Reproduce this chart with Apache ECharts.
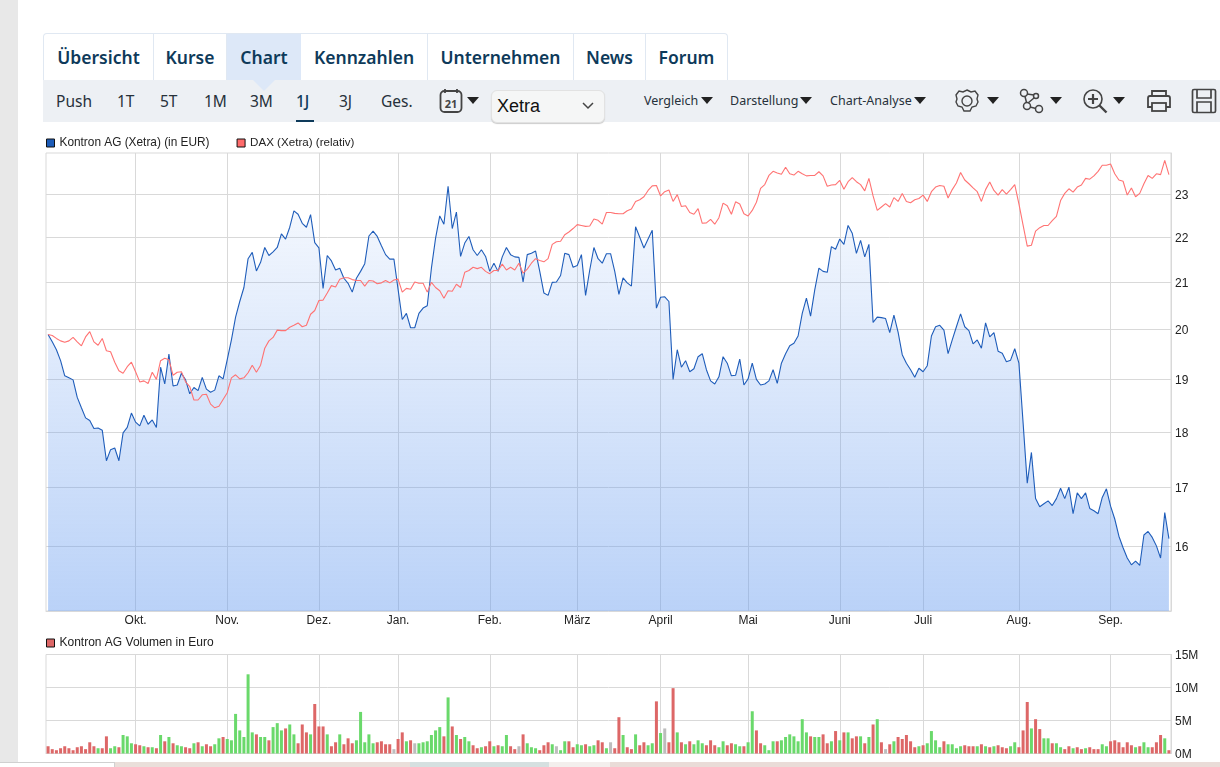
<!DOCTYPE html>
<html>
<head>
<meta charset="utf-8">
<title>Kontron AG Chart</title>
<script src="https://cdn.jsdelivr.net/npm/echarts@6/dist/echarts.min.js"></script>
<style>
html, body { margin: 0; padding: 0; background: #fff; width: 1220px; height: 767px; overflow: hidden; }
body { position: relative; font-family: "Noto Sans", sans-serif; }
#side { position: absolute; left: 0; top: 0; width: 18px; height: 762px; background: #e8e8e8; }
#tabs { position: absolute; left: 43px; top: 33px; width: 683px; height: 46px; border: 1px solid #e0e8f2; border-bottom: 0; border-radius: 4px 4px 0 0; }
.tab { position: absolute; top: 34px; height: 46px; line-height: 47px; text-align: center; font-size: 17.5px; font-weight: 600; color: #0e3a5a; border-right: 1px solid #e0e8f2; box-sizing: border-box; }
#bar { position: absolute; left: 43px; top: 80px; width: 1177px; height: 42px; background: #edf0f4; }
#tip { position: absolute; left: 253px; top: 80px; width: 0; height: 0; border-left: 11px solid transparent; border-right: 11px solid transparent; border-top: 11px solid #dde8f8; }
.rng { position: absolute; top: 90px; line-height: 22px; font-size: 15.5px; color: #27313a; }
.menu { position: absolute; top: 91px; line-height: 20px; font-size: 12.5px; color: #27313a; }
.tri { position: absolute; width: 0; height: 0; border-left: 6px solid transparent; border-right: 6px solid transparent; border-top: 7px solid #222; }
#sel { position: absolute; left: 491px; top: 90px; width: 112px; height: 31px; background: #f5f6f6; border: 1px solid #e2e2e2; border-radius: 6px; box-shadow: 0 1px 1px #ccc; font: 18px "Liberation Sans", Arial, sans-serif; line-height: 31px; color: #111; text-indent: 5px; }
svg.ico { position: absolute; fill: none; stroke: #444; }
.strip { position: absolute; top: 762px; height: 5px; }
#chart { position: absolute; left: 0; top: 0; width: 1220px; height: 767px; }
</style>
</head>
<body>
<div id="side"></div>
<div id="tabs"></div>
<div class="tab" style="left:44px;width:110px">Übersicht</div>
<div class="tab" style="left:154px;width:73px">Kurse</div>
<div class="tab" style="left:227px;width:74px;background:#dde8f8;border-right:0">Chart</div>
<div class="tab" style="left:301px;width:127px">Kennzahlen</div>
<div class="tab" style="left:428px;width:146px">Unternehmen</div>
<div class="tab" style="left:574px;width:72px">News</div>
<div class="tab" style="left:646px;width:81px;border-right:0">Forum</div>
<div id="bar"></div>
<div id="tip"></div>
<div class="rng" style="left:56px">Push</div>
<div class="rng" style="left:117px">1T</div>
<div class="rng" style="left:160px">5T</div>
<div class="rng" style="left:204px">1M</div>
<div class="rng" style="left:250px">3M</div>
<div class="rng" style="left:296px;font-weight:500;color:#0e3a5a">1J</div>
<div style="position:absolute;left:296px;top:120px;width:18px;height:2px;background:#0e3a5a"></div>
<div class="rng" style="left:339px">3J</div>
<div class="rng" style="left:381px">Ges.</div>
<svg class="ico" style="left:439px;top:88px" width="24" height="26" stroke-width="1.8">
  <rect x="1.5" y="3" width="21" height="21" rx="4"/><path d="M6 1v4M18 1v4"/>
  <text x="12" y="20" font-family="Noto Sans" font-size="11" font-weight="700" fill="#444" stroke="none" text-anchor="middle">21</text>
</svg>
<div class="tri" style="left:467px;top:97px"></div>
<div id="sel">Xetra</div>
<svg class="ico" style="left:582px;top:102px" width="12" height="8" stroke-width="1.5"><path d="M1 1l5 5 5-5"/></svg>
<div class="menu" style="left:644px">Vergleich</div><div class="tri" style="left:701px;top:97px"></div>
<div class="menu" style="left:730px">Darstellung</div><div class="tri" style="left:800px;top:97px"></div>
<div class="menu" style="left:830px">Chart-Analyse</div><div class="tri" style="left:914px;top:97px"></div>
<svg class="ico" style="left:954px;top:88px" width="26" height="26" stroke-width="1.4">
  <path d="M13 2l4 2 4-1 3 4-1 4 1 3-2 4-4 1-2 4h-6l-2-4-4-1-2-4 1-3-1-4 3-4 4 1z"/><circle cx="13" cy="13" r="5"/>
</svg>
<div class="tri" style="left:987px;top:97px"></div>
<svg class="ico" style="left:1019px;top:88px" width="26" height="26" stroke-width="1.5">
  <circle cx="5" cy="5" r="3.5"/><circle cx="8" cy="18" r="3.5"/><circle cx="20" cy="21" r="3.5"/><circle cx="17" cy="8" r="2.5"/>
  <path d="M6 8.5l1.5 6M11 19l6 1.5M8 6l7 1M9 15l6-5"/>
</svg>
<div class="tri" style="left:1050px;top:97px"></div>
<svg class="ico" style="left:1082px;top:88px" width="26" height="26" stroke-width="1.6">
  <circle cx="11" cy="11" r="9"/><path d="M17.5 17.5l7 7" stroke-width="2.4"/><path d="M11 6v10M6 11h10" stroke-width="2.2"/>
</svg>
<div class="tri" style="left:1113px;top:97px"></div>
<svg class="ico" style="left:1146px;top:89px" width="26" height="24" stroke-width="1.8">
  <path d="M6 8V2h14v6M6 18H2V9q0-2 2-2h18q2 0 2 2v9h-4"/><rect x="6" y="14" width="14" height="8"/>
</svg>
<svg class="ico" style="left:1191px;top:88px" width="26" height="26" stroke-width="1.7">
  <rect x="1.5" y="1.5" width="23" height="23" rx="1.5"/><path d="M6 2v8h14V2M6 24V14h14v10"/>
</svg>
<div class="strip" style="left:0;width:114px;height:1px;background:#d0d0d0"></div>
<div class="strip" style="left:114px;width:1px;background:#d0d0d0"></div>
<div class="strip" style="left:115px;width:295px;background:#eadfda"></div>
<div class="strip" style="left:410px;width:139px;background:#d5e0e0"></div>
<div class="strip" style="left:549px;width:61px;background:#f3efed"></div>
<div class="strip" style="left:610px;width:610px;background:#eadcd8"></div>
<div id="chart"></div>

<script>
// Kursdaten
var kontronValues = [
    19.9, 19.75, 19.59, 19.37, 19.07, 19.03, 18.99, 18.65, 18.45, 18.26,
    18.21, 18.06, 18.07, 18.03, 17.47, 17.67, 17.7, 17.47, 17.98, 18.08,
    18.35, 18.18, 18.11, 18.31, 18.14, 18.22, 18.08, 19.24, 18.91, 19.5,
    18.87, 18.89, 19.12, 18.99, 18.72, 18.84, 18.78, 19.04, 18.81, 18.75,
    18.79, 19.07, 19.01, 19.39, 19.79, 20.26, 20.59, 20.89, 21.52, 21.66,
    21.25, 21.44, 21.77, 21.59, 21.67, 21.77, 22.08, 21.96, 22.23, 22.61,
    22.53, 22.32, 22.23, 22.52, 21.88, 21.76, 20.87, 21.59, 21.47, 21.27,
    21.31, 21.09, 20.98, 20.79, 21.09, 21.24, 21.41, 22.03, 22.14, 22.02,
    21.81, 21.61, 21.51, 21.51, 20.85, 20.21, 20.34, 20.04, 20.04, 20.34,
    20.45, 20.5, 21.31, 21.98, 22.49, 22.3, 23.19, 22.2, 22.58, 21.57,
    21.87, 22.02, 21.72, 21.59, 21.72, 21.57, 21.24, 21.42, 21.24, 21.56,
    21.77, 21.61, 21.56, 21.55, 21.01, 21.61, 21.64, 21.69, 21.24, 20.77,
    20.72, 21.0, 21.01, 21.15, 21.64, 21.61, 21.33, 21.37, 21.61, 20.72,
    21.27, 21.77, 21.52, 21.42, 21.63, 21.63, 21.24, 20.74, 21.1, 20.99,
    20.92, 22.24, 22.0, 21.76, 21.96, 22.16, 20.45, 20.68, 20.69, 20.59,
    19.0, 19.59, 19.24, 19.37, 19.15, 19.21, 19.45, 19.51, 19.19, 18.97,
    18.91, 19.05, 19.45, 19.32, 19.07, 19.08, 19.4, 18.89, 19.01, 19.32,
    19.0, 18.89, 18.91, 18.97, 19.19, 18.92, 19.32, 19.51, 19.67, 19.72,
    19.87, 20.34, 20.66, 20.28, 20.84, 21.31, 21.24, 21.22, 21.79, 21.73,
    21.96, 21.84, 22.27, 22.09, 21.64, 21.93, 21.56, 21.84, 20.15, 20.26,
    20.25, 20.23, 19.94, 20.3, 19.95, 19.49, 19.32, 19.19, 19.04, 19.22,
    19.15, 19.27, 19.87, 20.06, 20.09, 19.99, 19.51, 19.79, 20.06, 20.33,
    20.06, 19.98, 19.71, 19.79, 19.62, 20.14, 19.85, 19.94, 19.56, 19.52,
    19.35, 19.38, 19.61, 19.32, 18.17, 17.07, 17.62, 16.8, 16.66, 16.71,
    16.76, 16.68, 16.8, 16.98, 16.8, 17.0, 16.54, 16.9, 16.8, 16.9,
    16.63, 16.59, 16.54, 16.82, 16.97, 16.67, 16.45, 16.16, 15.97, 15.8,
    15.69, 15.75, 15.68, 16.18, 16.24, 16.14, 16.0, 15.8, 16.56, 16.12
];
var daxValues = [
    19.9, 19.88, 19.82, 19.77, 19.74, 19.77, 19.84, 19.75, 19.67, 19.85,
    19.96, 19.75, 19.68, 19.82, 19.57, 19.55, 19.34, 19.17, 19.12, 19.25,
    19.34, 19.15, 18.95, 18.97, 18.92, 19.14, 19.0, 19.37, 19.42, 19.39,
    19.08, 19.14, 19.15, 18.95, 18.86, 18.6, 18.6, 18.7, 18.71, 18.52,
    18.45, 18.48, 18.61, 18.74, 19.03, 19.09, 19.01, 19.03, 19.13, 19.28,
    19.14, 19.28, 19.62, 19.77, 19.84, 19.99, 19.98, 19.98, 20.05, 20.09,
    20.14, 20.06, 20.09, 20.32, 20.4, 20.61, 20.62, 20.77, 20.93, 20.9,
    21.07, 21.1, 21.1, 21.06, 21.04, 21.04, 20.92, 21.04, 21.03, 20.97,
    20.99, 21.04, 20.99, 21.05, 21.07, 20.79, 20.87, 20.85, 21.01, 20.98,
    20.98, 20.79, 21.0, 20.89, 20.82, 20.66, 20.82, 20.81, 20.96, 20.89,
    21.22, 21.26, 21.33, 21.3, 21.33, 21.24, 21.19, 21.26, 21.26, 21.4,
    21.27, 21.33, 21.27, 21.42, 21.2, 21.29, 21.42, 21.52, 21.48, 21.45,
    21.52, 21.84, 21.9, 21.91, 22.06, 22.12, 22.2, 22.29, 22.27, 22.25,
    22.26, 22.42, 22.39, 22.3, 22.57, 22.57, 22.55, 22.54, 22.54, 22.61,
    22.65, 22.83, 22.87, 22.94, 23.09, 23.2, 23.21, 22.96, 23.06, 23.1,
    22.83, 22.99, 22.71, 22.73, 22.57, 22.53, 22.66, 22.32, 22.33, 22.41,
    22.3, 22.45, 22.79, 22.73, 22.53, 22.82, 22.77, 22.54, 22.49, 22.62,
    22.81, 23.14, 23.23, 23.45, 23.55, 23.51, 23.48, 23.65, 23.49, 23.46,
    23.55, 23.49, 23.44, 23.45, 23.45, 23.54, 23.44, 23.19, 23.22, 23.23,
    23.33, 23.12, 23.3, 23.4, 23.3, 23.23, 23.08, 23.38, 22.96, 22.62,
    22.7, 22.78, 22.7, 22.92, 22.83, 23.02, 22.83, 22.8, 22.87, 22.9,
    22.98, 22.83, 23.06, 23.17, 23.21, 23.19, 22.91, 23.11, 23.27, 23.52,
    23.34, 23.25, 23.15, 23.06, 22.83, 23.11, 23.29, 23.09, 22.98, 23.11,
    23.0, 23.11, 23.23, 22.77, 22.28, 21.8, 21.82, 22.14, 22.22, 22.27,
    22.27, 22.38, 22.48, 22.85, 23.02, 23.13, 23.05, 23.17, 23.22, 23.38,
    23.36, 23.44, 23.55, 23.7, 23.7, 23.73, 23.49, 23.34, 23.31, 22.98,
    23.15, 22.94, 23.02, 23.25, 23.45, 23.38, 23.49, 23.47, 23.82, 23.47
];
// Volumen in Mio. Euro
var volumeValues = [
    1.1, 0.66, 0.5, 0.8, 1.1, 0.8, 0.5, 0.95, 1.1, 0.66,
    1.7, 1.1, 0.8, 0.8, 2.6, 0.8, 1.1, 0.95, 2.8, 2.6,
    1.55, 1.4, 1.25, 1.1, 0.95, 0.95, 0.8, 2.8, 1.85, 2.5,
    1.55, 1.25, 1.1, 0.95, 0.8, 1.55, 1.7, 1.1, 1.4, 1.1,
    1.4, 2.3, 2.5, 2.2, 2.0, 6.0, 3.5, 2.5, 12.0, 3.2,
    2.9, 2.5, 2.5, 2.0, 4.0, 4.6, 3.5, 3.8, 4.4, 2.9,
    1.55, 4.4, 3.2, 2.9, 7.5, 4.1, 4.1, 2.9, 1.1, 1.7,
    2.9, 1.4, 2.3, 1.55, 2.0, 6.3, 1.7, 2.9, 1.55, 1.7,
    1.85, 1.4, 1.4, 0.66, 2.2, 3.2, 1.85, 2.0, 1.55, 1.55,
    1.7, 1.85, 2.8, 3.5, 4.0, 2.6, 8.5, 4.1, 2.8, 2.2,
    2.5, 1.85, 1.25, 0.8, 0.95, 1.1, 1.85, 1.1, 1.25, 1.1,
    2.8, 1.1, 0.66, 1.1, 2.9, 1.55, 0.95, 0.8, 0.5, 1.25,
    1.7, 1.4, 1.1, 0.5, 1.85, 1.85, 0.95, 1.4, 1.25, 1.4,
    1.1, 1.25, 2.0, 1.7, 0.8, 1.7, 0.8, 5.5, 2.8, 0.95,
    0.66, 2.9, 1.25, 1.7, 1.25, 1.55, 7.9, 3.1, 3.8, 1.7,
    9.9, 3.2, 1.7, 1.4, 1.85, 1.4, 2.0, 1.55, 1.25, 2.0,
    1.25, 0.95, 1.85, 1.25, 1.55, 1.4, 1.1, 1.1, 1.7, 6.4,
    3.5, 1.55, 1.25, 0.5, 1.85, 1.85, 2.0, 2.5, 2.9, 2.6,
    1.85, 5.2, 3.2, 2.6, 2.5, 2.5, 2.9, 1.55, 1.85, 3.4,
    2.0, 3.2, 3.2, 2.3, 2.6, 2.6, 1.55, 2.5, 4.4, 5.2,
    1.7, 0.66, 1.4, 1.85, 2.5, 2.2, 2.8, 1.85, 0.95, 1.1,
    1.25, 1.55, 3.4, 2.0, 0.95, 1.85, 1.4, 1.4, 0.8, 1.1,
    1.25, 1.1, 1.1, 1.1, 1.4, 1.1, 0.95, 1.1, 1.25, 0.95,
    0.8, 1.1, 1.7, 0.95, 3.5, 7.8, 3.8, 5.2, 3.7, 2.3,
    2.3, 1.55, 1.55, 0.95, 0.66, 1.1, 0.8, 0.95, 0.66, 0.8,
    0.95, 0.66, 0.66, 1.4, 1.1, 1.85, 2.0, 1.7, 0.95, 1.7,
    1.25, 0.95, 1.1, 1.7, 0.95, 0.95, 1.7, 2.8, 2.3, 0.5
];
// r = rot, g = gruen, n = neutral
var volumeTrend = [
    'rrrrrrrrrr', 'rrgrrggrgg', 'grrgrgrgrg', 'rggrrgrgrr', 'ggrggggggg',
    'rggrgggrgg', 'rrrgrrrgrr', 'grrrgggggr', 'rrrnrrgrng', 'gggggrgrgr',
    'ggrrgrrgrg', 'grrnrgggrr', 'rgnggrrggr', 'ggrrgnrrgr', 'rgrrggrgnr',
    'rgrgrgggrr', 'rggrrggrgg', 'rrgggrgggg', 'gggrggrrgr', 'grgrrgrgrg',
    'rnrgrrrrrg', 'rggggrgggg', 'rrrgrgrgrr', 'rggrrrgrrg', 'grggrrgrrg',
    'rrrggrrrrr', 'rgrggrrrgr'
].join('').split('');

var monthLabels = ['Okt.', 'Nov.', 'Dez.', 'Jan.', 'Feb.', 'März', 'April', 'Mai', 'Juni', 'Juli', 'Aug.', 'Sep.'];
var monthStarts = [21, 43, 65, 84, 106, 127, 147, 168, 190, 210, 233, 255];
var priceTicks = [16, 17, 18, 19, 20, 21, 22, 23];

var trendColors = { r: '#dd6767', g: '#6ad96b', n: '#bdbdbd' };
var days = [];
for (var i = 0; i < kontronValues.length; i++) {
    days.push(String(i));
}
var volumeData = [];
for (var v = 0; v < volumeValues.length; v++) {
    volumeData.push({
        value: volumeValues[v],
        itemStyle: { color: trendColors[volumeTrend[v]] }
    });
}

function isMonthStart(index) {
    return monthStarts.indexOf(index) >= 0;
}

var gridColor = '#d9d9d9';
var textFont = { color: '#222', fontSize: 12, fontFamily: '"Liberation Sans", Arial, sans-serif' };
var monthSplit = { show: true, alignWithLabel: true, interval: isMonthStart, lineStyle: { color: gridColor, width: 1 } };

var myChart = echarts.init(document.getElementById('chart'));
var option = {
    animation: false,
    backgroundColor: 'transparent',
    legend: [{
        left: 46, top: 137, padding: 0, itemWidth: 8, itemHeight: 8, itemGap: 27,
        textStyle: textFont,
        data: [
            { name: 'Kontron AG (Xetra) (in EUR)', icon: 'rect', itemStyle: { color: '#1d5cb8', borderColor: '#111', borderWidth: 1 }, textStyle: { fontSize: 11.85 } },
            { name: 'DAX (Xetra) (relativ)', icon: 'rect', itemStyle: { color: '#ff6b6b', borderColor: '#111', borderWidth: 1 }, textStyle: { fontSize: 11.6 } }
        ]
    }, {
        left: 46, top: 637, padding: 0, itemWidth: 8, itemHeight: 8,
        textStyle: textFont,
        data: [
            { name: 'Kontron AG Volumen in Euro', icon: 'rect', itemStyle: { color: '#dd6767', borderColor: '#111', borderWidth: 1 } }
        ]
    }],
    grid: [
        { left: 46, width: 1125, top: 153, height: 458, show: true, borderColor: gridColor, borderWidth: 1 },
        { left: 46, width: 1125, top: 654.5, height: 99, show: true, borderColor: gridColor, borderWidth: 1 }
    ],
    xAxis: [{
        type: 'category', gridIndex: 0, data: days,
        axisLine: { lineStyle: { color: gridColor } },
        axisTick: { show: false },
        axisLabel: Object.assign({
            interval: isMonthStart, margin: 3, lineHeight: 14,
            formatter: function (val, index) { return monthLabels[monthStarts.indexOf(index)] || ''; }
        }, textFont),
        splitLine: monthSplit
    }, {
        type: 'category', gridIndex: 1, data: days,
        axisLine: { lineStyle: { color: gridColor } },
        axisTick: { show: false },
        axisLabel: { show: false },
        splitLine: monthSplit
    }],
    yAxis: [{
        type: 'log', logBase: Math.E, gridIndex: 0, position: 'right', min: 14.96, max: 24,
        axisLine: { show: true, lineStyle: { color: gridColor } },
        axisTick: { show: false, customValues: priceTicks },
        axisLabel: Object.assign({ customValues: priceTicks, margin: 4, verticalAlign: 'top', lineHeight: 3 }, textFont),
        splitLine: { show: true, lineStyle: { color: gridColor, width: 1 } }
    }, {
        type: 'value', gridIndex: 1, position: 'right', min: 0, max: 15, interval: 5,
        axisLine: { show: true, lineStyle: { color: gridColor } },
        axisTick: { show: false },
        axisLabel: Object.assign({ margin: 4, verticalAlign: 'top', lineHeight: 2, formatter: '{value}M' }, textFont),
        splitLine: { show: true, lineStyle: { color: gridColor, width: 1 } }
    }],
    series: [{
        name: 'Kontron AG (Xetra) (in EUR)',
        type: 'line', xAxisIndex: 0, yAxisIndex: 0,
        data: kontronValues,
        showSymbol: false, symbol: 'none',
        lineStyle: { color: '#1f5dba', width: 1.1 },
        itemStyle: { color: '#1f5dba' },
        areaStyle: {
            origin: 'start',
            opacity: 1,
            color: new echarts.graphic.LinearGradient(0, 0, 0, 1, [
                { offset: 0, color: 'rgba(102,155,239,0.06)' },
                { offset: 1, color: 'rgba(102,155,239,0.45)' }
            ])
        }
    }, {
        name: 'DAX (Xetra) (relativ)',
        type: 'line', xAxisIndex: 0, yAxisIndex: 0,
        data: daxValues,
        showSymbol: false, symbol: 'none',
        lineStyle: { color: '#ff7373', width: 1.1 },
        itemStyle: { color: '#ff7373' }
    }, {
        name: 'Kontron AG Volumen in Euro',
        type: 'bar', xAxisIndex: 1, yAxisIndex: 1,
        data: volumeData,
        barWidth: 3,
        itemStyle: { color: '#dd6767' }
    }]
};
// 使用刚指定的配置项和数据显示图表
myChart.setOption(option);
</script>
</body>
</html>
